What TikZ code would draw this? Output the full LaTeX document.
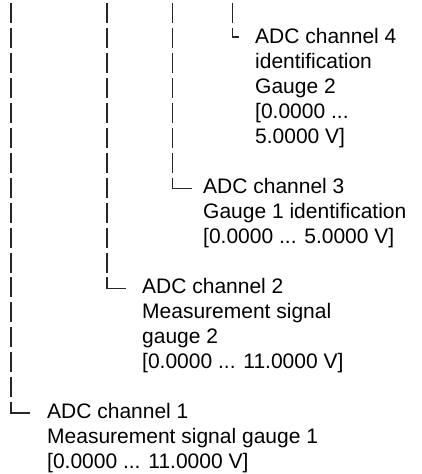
\documentclass[tikz,border=0pt]{standalone}
\usepackage{fontspec}
\setmainfont{Liberation Sans}
\begin{document}
\begin{tikzpicture}[x=1pt,y=-1pt,
  lbl/.style={anchor=base west, inner sep=0pt, font=\fontsize{21}{25}\selectfont, text=black},
  bar/.style={line width=1.7pt, draw=black!85, dash pattern=on 20pt off 4.95pt},
  elbow/.style={line width=1.2pt, draw=black!85}]
\useasboundingbox (0,0) rectangle (422,474);

% text blocks
\node[lbl] (d4a) at (255,43.95) {ADC channel 4};
\node[lbl] (d4b) at (255,68.9) {identification};
\node[lbl] (d4c) at (255,93.85) {Gauge 2};
\node[lbl] (d4d) at (255,118.8) {[0.0000 ...};
\node[lbl] (d4e) at (255,143.75) {5.0000 V]};

\node[lbl] (d3a) at (203,193.65) {ADC channel 3};
\node[lbl] (d3b) at (203,218.6) {Gauge 1 identification};
\node[lbl] (d3c) at (203,243.55) {[0.0000 ... 5.0000 V]};

\node[lbl] (d2a) at (142,293.45) {ADC channel 2};
\node[lbl] (d2b) at (142,318.4) {Measurement signal};
\node[lbl] (d2c) at (142,343.35) {gauge 2};
\node[lbl] (d2d) at (142,368.3) {[0.0000 ... 11.0000 V]};

\node[lbl] (d1a) at (47,418.2) {ADC channel 1};
\node[lbl] (d1b) at (47,443.15) {Measurement signal gauge 1};
\node[lbl] (d1c) at (47,468.1) {[0.0000 ... 11.0000 V]};

% column coordinates
\coordinate (t1) at (11,3);    \coordinate (e1) at (11,397.25);
\coordinate (t2) at (107,3);   \coordinate (e2) at (107,272.5);
\coordinate (t3) at (172.5,3); \coordinate (e3) at (172.5,172.7);
\coordinate (t4) at (232.5,3); \coordinate (e4) at (232.5,23);

\coordinate (k1) at (11,402.2);    \coordinate (h1) at (30,413);
\coordinate (k2) at (107,277.45);  \coordinate (h2) at (126,288.2);
\coordinate (k3) at (172.5,177.65);\coordinate (h3) at (192,188.4);
\coordinate (k4) at (232.5,28);    \coordinate (h4) at (239,37);

\draw[bar] (t1) -- (e1);
\draw[bar] (t2) -- (e2);
\draw[bar] (t3) -- (e3);
\draw[bar] (t4) -- (e4);

\draw[elbow] (k1) |- (h1);
\draw[elbow] (k2) |- (h2);
\draw[elbow] (k3) |- (h3);
\draw[elbow] (k4) |- (h4);
\end{tikzpicture}
\end{document}
